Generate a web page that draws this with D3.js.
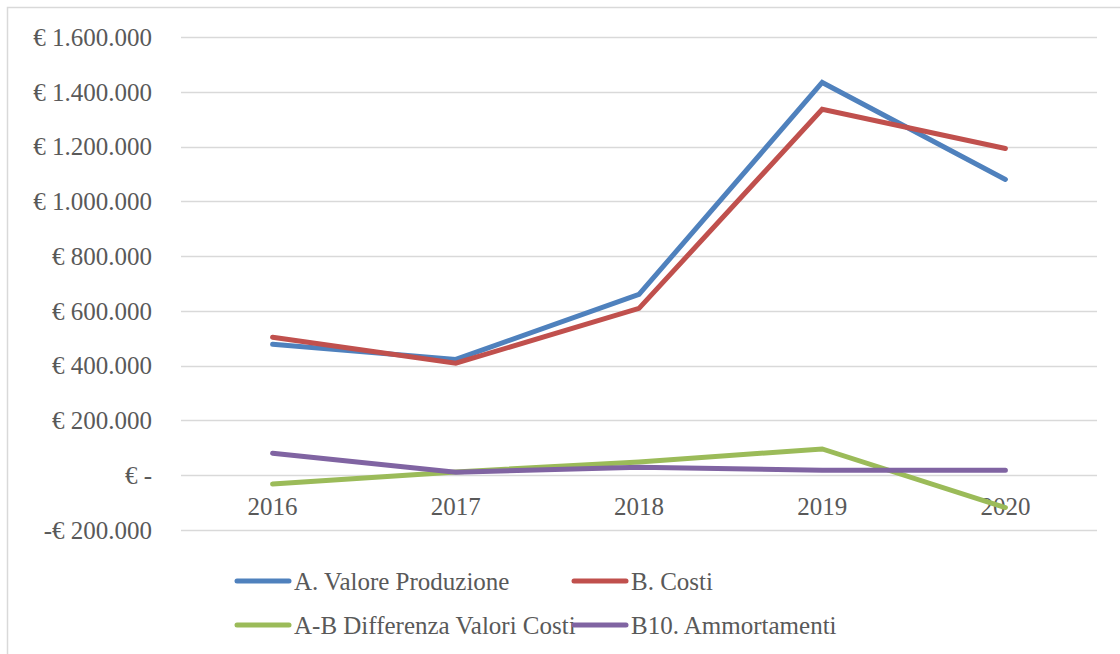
<!DOCTYPE html>
<html>
<head>
<meta charset="utf-8">
<script src="https://cdn.jsdelivr.net/npm/d3@7"></script>
<style>
  body { margin: 0; background: #fff; }
  text { font-family: "Liberation Serif", "DejaVu Serif", serif; fill: #595959; }
</style>
</head>
<body>
<svg id="chart" width="1120" height="654"></svg>
<script>
// Data
const years = ['2016', '2017', '2018', '2019', '2020'];
const valoreProduzione = [478000, 423000, 660000, 1434000, 1080000];
const costi = [504000, 409000, 609000, 1336000, 1193000];
const differenza = [-32000, 12000, 48000, 96000, -118000];
const ammortamenti = [80000, 11000, 29000, 18000, 18000];
const yTicks = [-200000, 0, 200000, 400000, 600000, 800000, 1000000, 1200000, 1400000, 1600000];

const series = [
  { name: 'A. Valore Produzione', values: valoreProduzione, color: '#4F81BD' },
  { name: 'B. Costi', values: costi, color: '#C0504D' },
  { name: 'A-B Differenza Valori Costi', values: differenza, color: '#9BBB59' },
  { name: 'B10. Ammortamenti', values: ammortamenti, color: '#8064A2' }
];

const svg = d3.select('#chart');

// chart area border (left + top only visible)
svg.append('path')
  .attr('d', 'M7.5,654 V7.5 H1120')
  .attr('fill', 'none')
  .attr('stroke', '#d9d9d9')
  .attr('stroke-width', 1.5);

const x = d3.scaleBand().domain(years).range([181, 1097]);
const y = d3.scaleLinear().domain([-200000, 1600000]).range([530, 37]);

// number format: € 1.600.000
const fmtNum = d3.formatLocale({ decimal: ',', thousands: '.', grouping: [3], currency: ['€ ', ''] }).format(',.0f');
const fmtTick = v => v === 0 ? '€ -' : (v < 0 ? '-€ ' + fmtNum(-v) : '€ ' + fmtNum(v));

// gridlines
svg.append('g')
  .selectAll('line')
  .data(yTicks)
  .join('line')
  .attr('x1', 181)
  .attr('x2', 1097)
  .attr('y1', d => Math.round(y(d)) + 0.5)
  .attr('y2', d => Math.round(y(d)) + 0.5)
  .attr('stroke', '#d9d9d9')
  .attr('stroke-width', 1.5);

// y tick labels
svg.append('g')
  .selectAll('text')
  .data(yTicks)
  .join('text')
  .attr('x', 152)
  .attr('y', d => y(d))
  .attr('dy', '0.35em')
  .attr('text-anchor', 'end')
  .style('font-size', '25px')
  .text(fmtTick);

// x labels (sit just below zero line)
svg.append('g')
  .selectAll('text')
  .data(years)
  .join('text')
  .attr('x', d => x(d) + x.bandwidth() / 2)
  .attr('y', y(0) + 40)
  .attr('text-anchor', 'middle')
  .style('font-size', '25px')
  .text(d => d);

// lines
const line = d3.line()
  .x((d, i) => x(years[i]) + x.bandwidth() / 2)
  .y(d => y(d));

svg.append('g')
  .selectAll('path')
  .data(series)
  .join('path')
  .attr('d', d => line(d.values))
  .attr('fill', 'none')
  .attr('stroke', d => d.color)
  .attr('stroke-width', 5)
  .attr('stroke-linecap', 'round')
  .attr('stroke-linejoin', 'miter');

// legend (2 x 2)
const legendPos = [[237, 581], [574, 581], [237, 625], [574, 625]];
const legend = svg.append('g')
  .selectAll('g')
  .data(series)
  .join('g')
  .attr('transform', (d, i) => `translate(${legendPos[i][0]},${legendPos[i][1]})`);

legend.append('line')
  .attr('x1', 0)
  .attr('x2', 52)
  .attr('stroke', d => d.color)
  .attr('stroke-width', 5)
  .attr('stroke-linecap', 'round');

legend.append('text')
  .attr('x', 57)
  .attr('dy', '0.35em')
  .style('font-size', '25px')
  .text(d => d.name);
</script>
</body>
</html>
